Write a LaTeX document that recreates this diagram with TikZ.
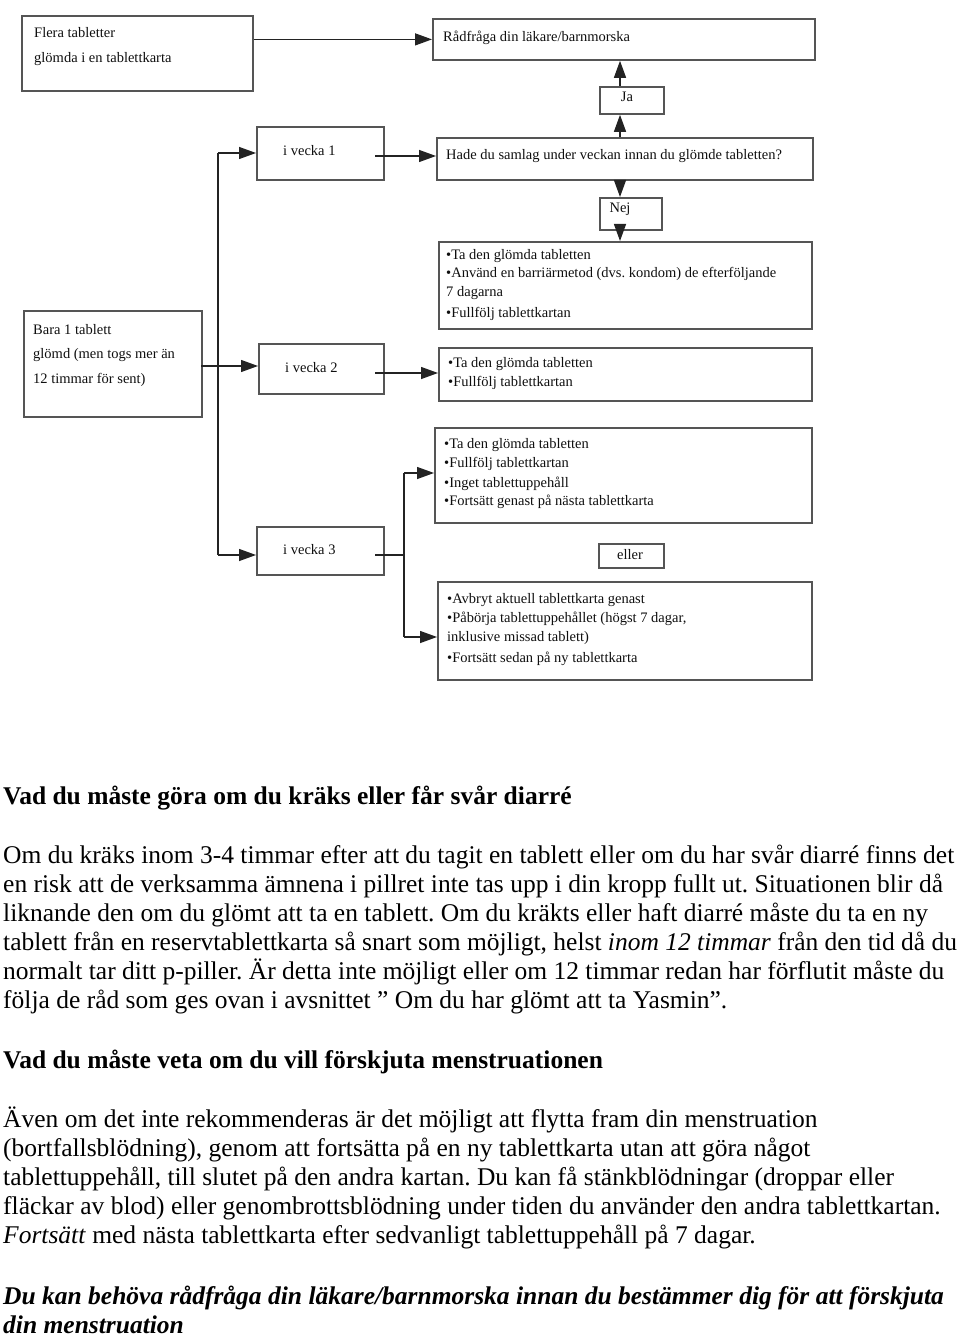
\documentclass[tikz,border=0pt]{standalone}
\usepackage{fontspec}
\setmainfont{Liberation Serif}
\usetikzlibrary{arrows.meta}
\frenchspacing
\definecolor{boxgray}{RGB}{85,85,85}
\definecolor{linegray}{RGB}{35,35,35}
\definecolor{dtext}{RGB}{15,15,15}
\newcommand{\dfont}{\fontsize{14.5}{17}\selectfont}
\newcommand{\bfont}{\fontsize{25.5}{29}\selectfont}
\tikzset{
  box/.style={draw=boxgray, line width=1.8pt, rectangle, anchor=north west, inner sep=0pt},
  dtxt/.style={anchor=base west, inner sep=0pt, font=\dfont, text=dtext},
  dctr/.style={anchor=base, inner sep=0pt, font=\dfont, text=dtext},
  conn/.style={draw=linegray, line width=1.3pt},
  arr/.style={conn, -{Triangle[length=17pt,width=12pt]}},
  body/.style={anchor=base west, inner sep=0pt, font=\bfont},
}
\begin{document}
\begin{tikzpicture}[x=1pt,y=-1pt]
\useasboundingbox[fill=white] (0,0) rectangle (960,1337);
% boxes
\node[box, minimum width=231pt, minimum height=75pt] (flera) at (21,15) {};
\node[box, minimum width=382pt, minimum height=41pt] (rad) at (432,18) {};
\node[box, minimum width=64pt, minimum height=27pt] (ja) at (599,86) {};
\node[box, minimum width=127pt, minimum height=53pt] (v1) at (256,126) {};
\node[box, minimum width=376pt, minimum height=42pt] (hade) at (436,137) {};
\node[box, minimum width=62pt, minimum height=32pt] (nej) at (599,197) {};
\node[box, minimum width=373pt, minimum height=87pt] (l1) at (438,241) {};
\node[box, minimum width=178pt, minimum height=106pt] (bara) at (23,310) {};
\node[box, minimum width=125pt, minimum height=50pt] (v2) at (258,343) {};
\node[box, minimum width=373pt, minimum height=53pt] (l2) at (438,347) {};
\node[box, minimum width=377pt, minimum height=95pt] (l3) at (434,427) {};
\node[box, minimum width=127pt, minimum height=48pt] (v3) at (256,526) {};
\node[box, minimum width=65pt, minimum height=24pt] (eller) at (598,543) {};
\node[box, minimum width=374pt, minimum height=98pt] (l4) at (437,581) {};
% box texts
\node[dtxt] (fleraA) at (34,38) {Flera tabletter};
\node[dtxt] (fleraB) at (34,63) {glömda i en tablettkarta};
\node[dtxt] (radT) at (443,42) {Rådfråga din läkare/barnmorska};
\node[dctr] (jaT) at (627,102) {Ja};
\node[dtxt] (v1T) at (283,156) {i vecka 1};
\node[dtxt] (hadeT) at (446,160) {Hade du samlag under veckan innan du glömde tabletten?};
\node[dctr] (nejT) at (620,213) {Nej};
\node[dtxt] (l1A) at (446,260) {•Ta den glömda tabletten};
\node[dtxt] (l1B) at (446,278) {•Använd en barriärmetod (dvs. kondom) de efterföljande};
\node[dtxt] (l1C) at (446,297) {7 dagarna};
\node[dtxt] (l1D) at (446,317) {•Fullfölj tablettkartan};
\node[dtxt] (baraA) at (33,334) {Bara 1 tablett};
\node[dtxt] (baraB) at (33,358) {glömd (men togs mer än};
\node[dtxt] (baraC) at (33,383) {12 timmar för sent)};
\node[dtxt] (v2T) at (285,372) {i vecka 2};
\node[dtxt] (l2A) at (448,367) {•Ta den glömda tabletten};
\node[dtxt] (l2B) at (448,386) {•Fullfölj tablettkartan};
\node[dtxt] (l3A) at (444,448) {•Ta den glömda tabletten};
\node[dtxt] (l3B) at (444,467) {•Fullfölj tablettkartan};
\node[dtxt] (l3C) at (444,487) {•Inget tablettuppehåll};
\node[dtxt] (l3D) at (444,505) {•Fortsätt genast på nästa tablettkarta};
\node[dtxt] (v3T) at (283,554) {i vecka 3};
\node[dctr] (ellerT) at (630,559) {eller};
\node[dtxt] (l4A) at (447,603) {•Avbryt aktuell tablettkarta genast};
\node[dtxt] (l4B) at (447,622) {•Påbörja tablettuppehållet (högst 7 dagar,};
\node[dtxt] (l4C) at (447,641) {inklusive missad tablett)};
\node[dtxt] (l4D) at (447,662) {•Fortsätt sedan på ny tablettkarta};
% connectors
\coordinate (ax) at (620,0);
\draw[arr] (flera.east |- rad.west) -- (rad.west);
\draw[arr] (hade.north -| ax) -- (ja.south -| ax);
\draw[arr] (ja.north -| ax) -- (rad.south -| ax);
\draw[arr] (hade.south -| ax) -- (nej.north -| ax);
\draw[arr] (nej.south -| ax) -- (l1.north -| ax);
\coordinate (s1) at (375,156);
\draw[arr] (s1) -- (hade.west |- s1);
\coordinate (j1) at (218,153);
\coordinate (j3) at (218,555);
\draw[conn] (j1) -- (j3);
\draw[arr] (j1) -- (v1.west |- j1);
\draw[arr] (j3) -- (v3.west |- j3);
\coordinate (b2) at (201,366);
\draw[arr] (b2) -- (v2.west |- b2);
\coordinate (s2) at (375,373);
\draw[arr] (s2) -- (l2.west |- s2);
\coordinate (s3) at (375,555);
\coordinate (j4) at (404,555);
\coordinate (j5) at (404,473);
\coordinate (j6) at (404,637);
\draw[conn] (s3) -- (j4);
\draw[conn] (j5) -- (j6);
\draw[arr] (j5) -- (l3.west |- j5);
\draw[arr] (j6) -- (l4.west |- j6);
% body text
\node[body, font=\bfont\bfseries] (h1) at (3,804) {Vad du måste göra om du kräks eller får svår diarré};
\node[body] (p1) at (3,863) {Om du kräks inom 3-4 timmar efter att du tagit en tablett eller om du har svår diarré finns det};
\node[body] (p2) at (3,892) {en risk att de verksamma ämnena i pillret inte tas upp i din kropp fullt ut. Situationen blir då};
\node[body] (p3) at (3,921) {liknande den om du glömt att ta en tablett. Om du kräkts eller haft diarré måste du ta en ny};
\node[body] (p4) at (3,950) {tablett från en reservtablettkarta så snart som möjligt, helst \textit{inom 12 timmar} från den tid då du};
\node[body] (p5) at (3,979) {normalt tar ditt p-piller. Är detta inte möjligt eller om 12 timmar redan har förflutit måste du};
\node[body] (p6) at (3,1008) {följa de råd som ges ovan i avsnittet ” Om du har glömt att ta Yasmin”.};
\node[body, font=\bfont\bfseries] (h2) at (3,1068) {Vad du måste veta om du vill förskjuta menstruationen};
\node[body] (q1) at (3,1127) {Även om det inte rekommenderas är det möjligt att flytta fram din menstruation};
\node[body] (q2) at (3,1156) {(bortfallsblödning), genom att fortsätta på en ny tablettkarta utan att göra något};
\node[body] (q3) at (3,1185) {tablettuppehåll, till slutet på den andra kartan. Du kan få stänkblödningar (droppar eller};
\node[body] (q4) at (3,1214) {fläckar av blod) eller genombrottsblödning under tiden du använder den andra tablettkartan.};
\node[body] (q5) at (3,1243) {\textit{Fortsätt} med nästa tablettkarta efter sedvanligt tablettuppehåll på 7 dagar.};
\node[body, font=\bfont\bfseries\itshape] (r1) at (3,1304) {Du kan behöva rådfråga din läkare/barnmorska innan du bestämmer dig för att förskjuta};
\node[body, font=\bfont\bfseries\itshape] (r2) at (3,1333) {din menstruation};
\end{tikzpicture}
\end{document}
